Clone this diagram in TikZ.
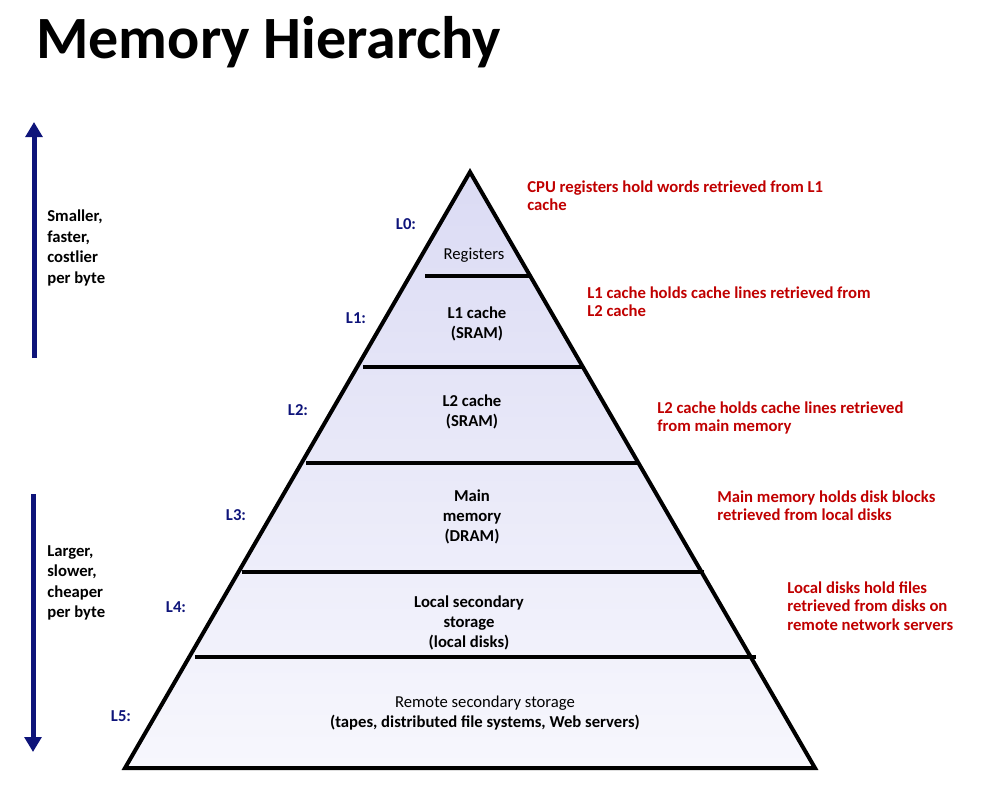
\documentclass[tikz,border=0pt]{standalone}
\usepackage{fontspec}
\setmainfont{Carlito}
\usetikzlibrary{arrows.meta}
\definecolor{navy}{RGB}{14,20,122}
\definecolor{darkred}{RGB}{192,0,0}
\definecolor{lavender}{RGB}{219,219,244}
\definecolor{palelav}{RGB}{247,247,253}

\begin{document}
\begin{tikzpicture}[x=0.6pt, y=-0.6pt,
	level/.style={font=\bfseries\fontsize{10}{12}\selectfont, text=navy},
	tier/.style={align=center, font=\fontsize{10}{12.2}\selectfont},
	note/.style={align=left, anchor=west, inner sep=0pt, text=darkred, font=\bfseries\fontsize{10}{11}\selectfont},
	side/.style={align=left, anchor=west, inner sep=0pt, font=\bfseries\fontsize{10}{12.3}\selectfont},
	shelf/.style={line width=2.4pt},
	bigarrow/.style={draw=navy, line width=3pt, -{Triangle[width=10pt, length=9pt]}}]
	\useasboundingbox (0,0) rectangle (1001,789);

	\node[anchor=west, inner sep=0pt, font=\bfseries\fontsize{36}{36}\selectfont] (title) at (36,42) {Memory Hierarchy};

	% pyramid
	\coordinate (apex) at (470,172);
	\coordinate (bl) at (125,768);
	\coordinate (br) at (815,768);
	\shade[top color=lavender, bottom color=palelav] (apex) -- (bl) -- (br) -- cycle;
	\draw[shelf] (425,276) -- (531,276);
	\draw[shelf] (363,367) -- (583,367);
	\draw[shelf] (306,463) -- (639,463);
	\draw[shelf] (242,572) -- (704,572);
	\draw[shelf] (195,657) -- (756,657);
	\draw[shelf] (apex) -- (bl) -- (br) -- cycle;

	% levels
	\node[level] (l0) at (406,224) {L0:};
	\node[level] (l1) at (356,318) {L1:};
	\node[level] (l2) at (298,410) {L2:};
	\node[level] (l3) at (236,515) {L3:};
	\node[level] (l4) at (176,607) {L4:};
	\node[level] (l5) at (121,716) {L5:};

	\node[tier] (reg) at (474,255) {Registers};
	\node[tier, font=\bfseries\fontsize{10}{12.2}\selectfont] (l1c) at (477,324) {L1 cache\\ (SRAM)};
	\node[tier, font=\bfseries\fontsize{10}{12.2}\selectfont] (l2c) at (472,412) {L2 cache\\(SRAM)};
	\node[tier, font=\bfseries\fontsize{10}{12.2}\selectfont] (mem) at (472,517) {Main\\memory\\(DRAM)};
	\node[tier, font=\bfseries\fontsize{10}{12.2}\selectfont] (disk) at (469,623) {Local secondary\\storage\\(local disks)};
	\node[tier] (remote) at (485,713) {Remote secondary storage\\{\bfseries(tapes, distributed file systems, Web servers)}};

	% what each level holds
	\node[note] (n0) at (527,196) {CPU registers hold words retrieved from L1\\cache};
	\node[note] (n1) at (587,302) {L1 cache holds cache lines retrieved from\\L2 cache};
	\node[note] (n2) at (657,418) {L2 cache holds cache lines retrieved\\from main memory};
	\node[note] (n3) at (717,506) {Main memory holds disk blocks\\retrieved from local disks};
	\node[note] (n4) at (787,606) {Local disks hold files\\retrieved from disks on\\remote network servers};

	% side arrows
	\coordinate (upfrom) at (34,358);
	\coordinate (upto) at (34,122);
	\coordinate (downfrom) at (33,494);
	\coordinate (downto) at (33,752);
	\draw[bigarrow] (upfrom) -- (upto);
	\draw[bigarrow] (downfrom) -- (downto);
	\node[side] (fast) at (47,248) {Smaller,\\faster,\\costlier\\per byte};
	\node[side] (slow) at (47,583) {Larger,\\slower,\\cheaper\\per byte};
\end{tikzpicture}
\end{document}
